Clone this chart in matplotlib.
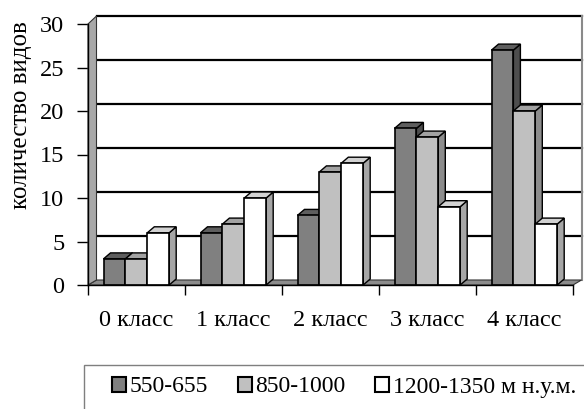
import matplotlib
matplotlib.use("Agg")
import matplotlib.pyplot as plt
from matplotlib.patches import Polygon, Rectangle, Patch
from matplotlib.lines import Line2D

categories = ["0 класс", "1 класс", "2 класс", "3 класс", "4 класс"]
series_names = ["550-655", "850-1000", "1200-1350 м н.у.м."]
s_550_655 = [3, 6, 8, 18, 27]
s_850_1000 = [3, 7, 13, 17, 20]
s_1200_1350 = [6, 10, 14, 9, 7]
yticks = [0, 5, 10, 15, 20, 25, 30]
ylabel = "количество видов"

series = [s_550_655, s_850_1000, s_1200_1350]
front_cols = ["#808080", "#c0c0c0", "#ffffff"]
top_cols = ["#5e5e5e", "#a2a2a2", "#d2d2d2"]
side_cols = ["#4e4e4e", "#8c8c8c", "#a6a6a6"]

plt.rcParams["font.family"] = ["Liberation Serif", "DejaVu Serif"]

W, H = 584, 409
fig = plt.figure(figsize=(W / 100, H / 100), dpi=100)
x0, x1, yb, yt = 88, 573, 285, 24
ax = fig.add_axes([x0 / W, (H - yb) / H, (x1 - x0) / W, (yb - yt) / H])
ax.set_xlim(0, len(categories))
ax.set_ylim(0, 30)
ax.set_facecolor("none")
for s in ["top", "right"]:
    ax.spines[s].set_visible(False)
ax.spines["left"].set_linewidth(1.0)
ax.spines["bottom"].set_linewidth(1.0)
ax.spines["left"].set_zorder(20)
ax.spines["bottom"].set_zorder(20)

pxx = (x1 - x0) / 5.0   # px per category
pxy = (yb - yt) / 30.0  # px per unit

# back-wall offsets
dxb = 8.5 / pxx
def yback(v):
    return (5 + 8.8 * v) / pxy

ncat = len(categories)
# back wall gridlines
for v in yticks[1:]:
    ax.add_line(Line2D([dxb, ncat + dxb], [yback(v), yback(v)], color="black",
                       lw=1.6, clip_on=False, zorder=1))
# right edge of back wall
ax.add_line(Line2D([ncat + dxb, ncat + dxb], [yback(0), yback(30)], color="#8a8a8a",
                   lw=1.5, clip_on=False, zorder=1))
# floor
ax.add_patch(Polygon([(0, 0), (ncat, 0), (ncat + dxb, yback(0)), (dxb, yback(0))],
                     closed=True, facecolor="#8c8c8c", edgecolor="#333333", lw=0.8,
                     clip_on=False, zorder=2))
# left wall
ax.add_patch(Polygon([(0, 0), (dxb, yback(0)), (dxb, yback(30)), (0, 30)],
                     closed=True, facecolor="#a8a8a8", edgecolor="#333333", lw=0.8,
                     clip_on=False, zorder=2))

# bars
bw = 21.9 / pxx
off = 15.5 / pxx
ddx = 7 / pxx
ddy = 6 / pxy
z = 5
for i in range(ncat):
    for j, s in enumerate(series):
        v = s[i]
        l = i + off + j * bw
        r = l + bw
        ax.add_patch(Polygon([(r, 0), (r + ddx, ddy), (r + ddx, v + ddy), (r, v)],
                             closed=True, facecolor=side_cols[j], edgecolor="black",
                             lw=1.0, clip_on=False, zorder=z))
        ax.add_patch(Polygon([(l, v), (r, v), (r + ddx, v + ddy), (l + ddx, v + ddy)],
                             closed=True, facecolor=top_cols[j], edgecolor="black",
                             lw=1.0, clip_on=False, zorder=z))
        ax.add_patch(Rectangle((l, 0), bw, v, facecolor=front_cols[j], edgecolor="black",
                               lw=1.2, clip_on=False, zorder=z))
        z += 1

ax.set_yticks(yticks)
ax.set_yticklabels([str(t) for t in yticks], fontsize=17.5)
ax.tick_params(axis="y", length=8, width=1.0, pad=9)
ax.set_xticks(range(ncat + 1))
ax.set_xticklabels([])
ax.set_xticks([i + 0.5 for i in range(ncat)], minor=True)
ax.set_xticklabels(categories, minor=True, fontsize=17.5)
ax.tick_params(axis="x", which="major", length=7, width=1.0)
ax.tick_params(axis="x", which="minor", length=0, pad=18)
ax.set_ylabel(ylabel, fontsize=18, labelpad=8)
ax.yaxis.set_label_coords(-56 / (x1 - x0), (yb - 115) / (yb - yt))

# legend box
fig.patches.append(Rectangle((84 / W, -0.05), 1.0, (H - 365) / H + 0.05,
                             transform=fig.transFigure, facecolor="none",
                             edgecolor="#7f7f7f", lw=1.0))
handles = [Patch(facecolor=front_cols[j], edgecolor="black", lw=1.5) for j in range(3)]
fig.legend(handles, series_names, loc="center left",
           bbox_to_anchor=(112 / W, (H - 387) / H), ncol=3, frameon=False,
           fontsize=17, handlelength=0.6, handleheight=0.6, handletextpad=0.15,
           columnspacing=1.25, borderpad=0, borderaxespad=0)

fig.savefig("out.png", dpi=100)
